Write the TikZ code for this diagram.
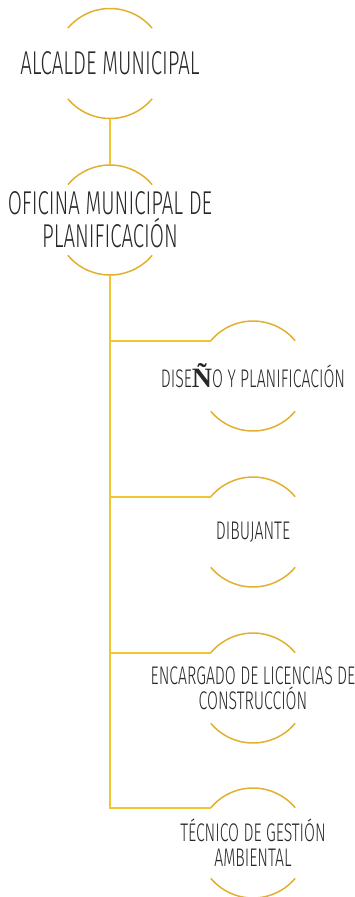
\documentclass[tikz,border=0pt]{standalone}
\usepackage{fontspec}
\newfontfamily\lblfont{Fira Sans Light}[FakeStretch=0.62]
\newfontfamily\serifn{Liberation Serif}
\definecolor{gold}{RGB}{226,176,46}
\definecolor{goldline}{RGB}{242,196,48}
\definecolor{ink}{RGB}{40,40,40}
\begin{document}
\begin{tikzpicture}[x=1pt,y=1pt,
  ring/.style={circle,minimum size=110pt,inner sep=0pt,outer sep=0pt,draw=none},
  arcline/.style={draw=gold,line width=1.5pt},
  conn/.style={draw=goldline,line width=1.8pt},
  bigtxt/.style={font=\lblfont\fontsize{33}{33}\selectfont,text=ink,align=center,inner sep=0pt},
  smalltxt/.style={font=\lblfont\fontsize{25.5}{25}\selectfont,text=ink,align=center,inner sep=0pt}]
\useasboundingbox (0,0) rectangle (354,-897);
% circles
\node[ring] (c1) at (110,-63.5) {};
\node[ring] (c2) at (110,-220) {};
\node[ring] (c3) at (253,-376) {};
\node[ring] (c4) at (253,-532) {};
\node[ring] (c5) at (253,-688) {};
\node[ring] (c6) at (253,-843) {};
\foreach \c in {c1,c2,c3,c4,c5,c6}{
  \draw[arcline] (\c.40) arc[start angle=40,end angle=140,radius=55pt];
  \draw[arcline] (\c.220) arc[start angle=220,end angle=320,radius=55pt];
}
% texts
\node[bigtxt] (t1) at (c1.center) {ALCALDE MUNICIPAL};
\node[bigtxt] (t2) at (c2.center) {OFICINA MUNICIPAL DE\\PLANIFICACIÓN};
\node[smalltxt] (t3) at (c3.center) {DISE{\serifn\bfseries\fontsize{28}{28}\selectfont Ñ}O Y PLANIFICACIÓN};
\node[smalltxt] (t4) at (c4.center) {DIBUJANTE};
\node[smalltxt] (t5) at (c5.center) {ENCARGADO DE LICENCIAS DE\\CONSTRUCCIÓN};
\node[smalltxt] (t6) at (c6.center) {TÉCNICO DE GESTIÓN\\AMBIENTAL};
% connectors
\draw[conn] (c1.south) -- (c2.north);
\draw[conn] (c2.south) |- (c3.140);
\draw[conn] (c2.south) |- (c4.140);
\draw[conn] (c2.south) |- (c5.140);
\draw[conn] (c2.south) |- (c6.140);
\end{tikzpicture}
\end{document}
